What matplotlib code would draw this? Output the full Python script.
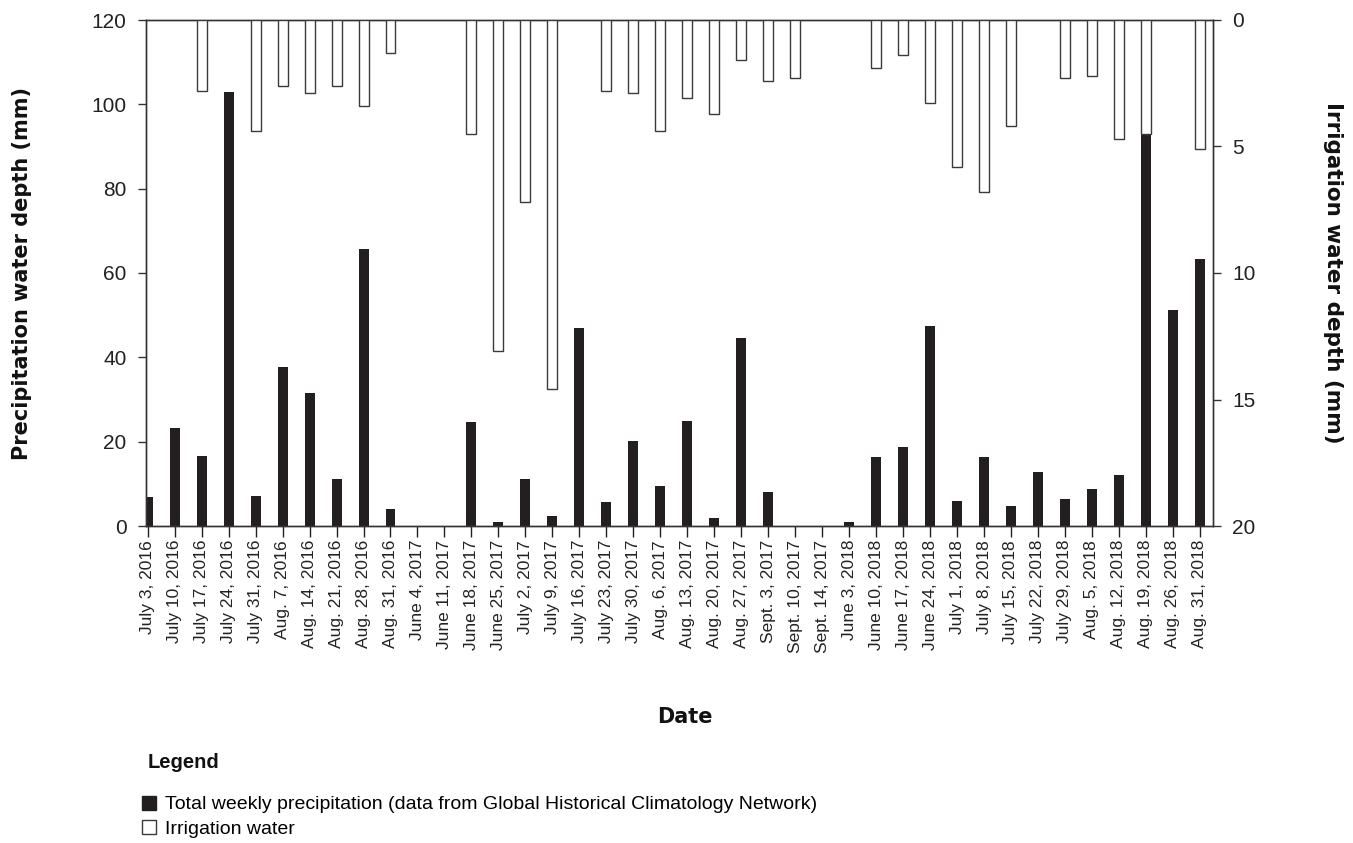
import matplotlib
matplotlib.use("Agg")
import matplotlib.pyplot as plt
from matplotlib.patches import Patch
import numpy as np

dates = ["July 3, 2016", "July 10, 2016", "July 17, 2016", "July 24, 2016", "July 31, 2016",
         "Aug. 7, 2016", "Aug. 14, 2016", "Aug. 21, 2016", "Aug. 28, 2016", "Aug. 31, 2016",
         "June 4, 2017", "June 11, 2017", "June 18, 2017", "June 25, 2017", "July 2, 2017",
         "July 9, 2017", "July 16, 2017", "July 23, 2017", "July 30, 2017", "Aug. 6, 2017",
         "Aug. 13, 2017", "Aug. 20, 2017", "Aug. 27, 2017", "Sept. 3, 2017", "Sept. 10, 2017",
         "Sept. 14, 2017", "June 3, 2018", "June 10, 2018", "June 17, 2018", "June 24, 2018",
         "July 1, 2018", "July 8, 2018", "July 15, 2018", "July 22, 2018", "July 29, 2018",
         "Aug. 5, 2018", "Aug. 12, 2018", "Aug. 19, 2018", "Aug. 26, 2018", "Aug. 31, 2018"]

precipitation = [6.8, 23.2, 16.7, 103.0, 7.1, 37.8, 31.5, 11.2, 65.7, 4.0,
                 0.0, 0.0, 24.6, 0.9, 11.2, 2.3, 47.0, 5.7, 20.1, 9.5,
                 25.0, 2.0, 44.7, 8.1, 0.0, 0.0, 0.9, 16.3, 18.7, 47.4,
                 6.0, 16.3, 4.7, 12.9, 6.4, 8.8, 12.2, 92.7, 51.3, 63.3]

irrigation = [0.0, 0.0, 2.8, 0.0, 4.4, 2.6, 2.9, 2.6, 3.4, 1.3,
              0.0, 0.0, 4.5, 13.1, 7.2, 14.6, 0.0, 2.8, 2.9, 4.4,
              3.1, 3.7, 1.6, 2.4, 2.3, 0.0, 0.0, 1.9, 1.4, 3.3,
              5.8, 6.8, 4.2, 0.0, 2.3, 2.2, 4.7, 4.5, 0.0, 5.1]

left_ticks = [0, 20, 40, 60, 80, 100, 120]
right_ticks = [0, 5, 10, 15, 20]

DARK = "#231f20"
EDGE = "#3a3a3a"

fig = plt.figure(figsize=(13.53, 8.43), dpi=100)
ax = fig.add_axes([146 / 1353, 1 - 526 / 843, (1212.5 - 146) / 1353, 506 / 843])
x = np.arange(len(dates))
w = 0.37

prec = np.array(precipitation)
irr = np.array(irrigation)
pm = prec > 0
im = irr > 0

ax.bar(x[pm], prec[pm], width=w, color=DARK, edgecolor="none", zorder=2)
ax.set_ylim(0, 120)
ax.set_yticks(left_ticks)
ax.set_xlim(-0.063, 39.47)
ax.set_xticks(x)
ax.set_xticklabels(dates, rotation=90, fontsize=12.5, family="Liberation Sans", color="#222222")
ax.tick_params(axis="y", labelsize=15, length=6, width=1, color="#333333", labelcolor="#222222", pad=8)
ax.tick_params(axis="x", length=8, width=1, color="#222222", pad=2)
for lab in ax.get_yticklabels():
    lab.set_family("Liberation Sans")

ax2 = ax.twinx()
ax2.bar(x[im], irr[im], width=w, color="white", edgecolor=EDGE, linewidth=1.0, zorder=3)
ax2.set_ylim(20, 0)
ax2.set_yticks(right_ticks)
ax2.tick_params(axis="y", labelsize=15, length=6, width=1, color="#333333", labelcolor="#222222", pad=8)
for lab in ax2.get_yticklabels():
    lab.set_family("Liberation Sans")

for a in (ax, ax2):
    for s in a.spines.values():
        s.set_color("#333333")
        s.set_linewidth(1.0)

ax.set_ylabel("Precipitation water depth (mm)", fontsize=15, fontweight="bold",
              family="DejaVu Sans", color="#111111")
ax2.set_ylabel("Irrigation water depth (mm)", fontsize=15.5, fontweight="bold",
               family="DejaVu Sans", rotation=270, color="#111111")
ax.yaxis.set_label_coords(-0.1165, 0.5)
ax2.yaxis.set_label_coords(1.113, 0.5)
ax.yaxis.label.set_va("center")
ax2.yaxis.label.set_va("center")

fig.text(685 / 1353, 1 - 717 / 843, "Date", ha="center", va="center", fontsize=15,
         fontweight="bold", family="DejaVu Sans", color="#111111")
fig.text(148 / 1353, 1 - 763 / 843, "Legend", ha="left", va="center", fontsize=14.5,
         fontweight="bold", family="Liberation Sans", color="#111111")

handles = [Patch(facecolor=DARK, edgecolor=DARK, label="Total weekly precipitation (data from Global Historical Climatology Network)"),
           Patch(facecolor="white", edgecolor=EDGE, label="Irrigation water")]
fig.legend(handles=handles, loc="upper left", bbox_to_anchor=(124 / 1353, 1 - 778 / 843),
           frameon=False, handlelength=0.75, handleheight=0.75,
           handletextpad=0.45, labelspacing=0.32, prop={"family": "Liberation Sans", "size": 14})

fig.savefig("out.png", dpi=100, facecolor="white")
